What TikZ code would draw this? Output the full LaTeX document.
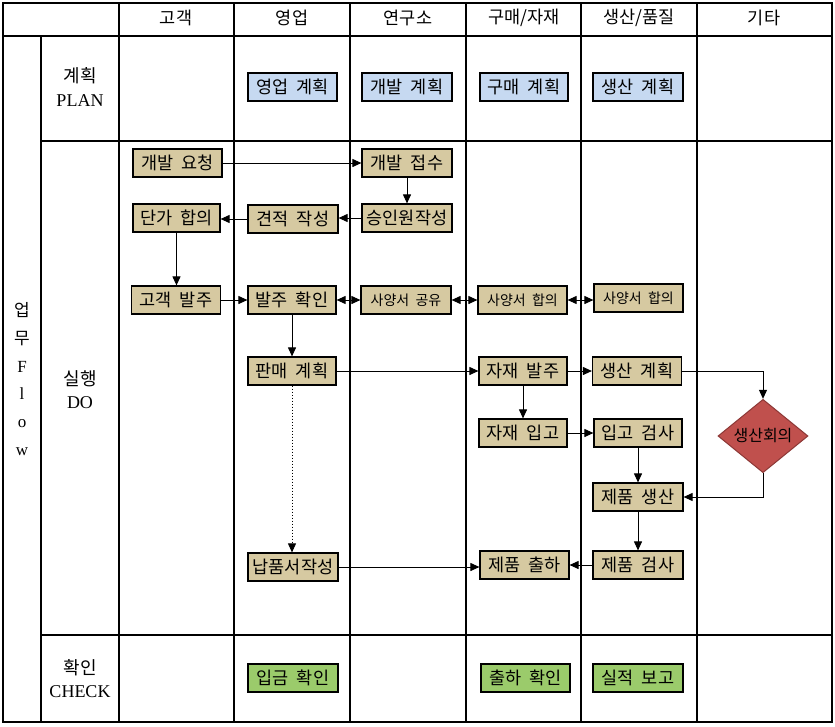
\documentclass[tikz,border=0pt]{standalone}
\usepackage{fontspec}
\setmainfont{Liberation Serif}
\newfontfamily\kr[WordSpace=2.0]{Noto Sans CJK KR}
\usetikzlibrary{shapes.geometric,arrows.meta}
\definecolor{tanbox}{RGB}{214,201,161}
\definecolor{bluebox}{RGB}{198,217,241}
\definecolor{greenbox}{RGB}{155,203,107}
\definecolor{redbox}{RGB}{192,80,77}
\definecolor{redline}{RGB}{140,56,54}
\tikzset{
  grid/.style={line width=1.1pt,black},
  base/.style={draw=black,line width=1.2pt,minimum height=28pt,inner sep=0pt,font=\kr\fontsize{17.5}{19}\selectfont},
  tanb/.style={base,fill=tanbox},
  blueb/.style={base,fill=bluebox},
  greenb/.style={base,fill=greenbox},
  smallt/.style={font=\kr\fontsize{14}{16}\selectfont},
  hdr/.style={font=\kr\fontsize{17.5}{19}\selectfont},
  lbl/.style={font=\fontsize{18}{20}\selectfont,align=center},
  conn/.style={line width=1pt,-{Triangle[length=9pt,width=8pt]}},
  dconn/.style={line width=1pt,{Triangle[length=9pt,width=8pt]}-{Triangle[length=9pt,width=8pt]}},
  dotconn/.style={line width=0.8pt,dash pattern=on 1.5pt off 1.5pt,-{Triangle[length=9pt,width=8pt]}},
  meet/.style={diamond,draw=redline,line width=1pt,fill=redbox,minimum width=90pt,minimum height=72pt,inner sep=0pt,font=\kr\fontsize{16}{18}\selectfont}
}
\begin{document}
\begin{tikzpicture}[x=1pt,y=-1pt]
\useasboundingbox (0,0) rectangle (835,726);
\fill[white] (0,0) rectangle (835,726);
% table
\draw[grid] (3,3) rectangle (832,722);
\draw[grid] (3,36) -- (832,36);
\draw[grid] (41,141) -- (832,141);
\draw[grid] (41,635) -- (832,635);
\draw[grid] (41,36) -- (41,722);
\foreach \x in {119,234,350,466,581,697} \draw[grid] (\x,3) -- (\x,722);
% headers
\node[hdr] (hA) at (176,18) {고객};
\node[hdr] (hB) at (292,18) {영업};
\node[hdr] (hC) at (408,18) {연구소};
\node[hdr] (hD) at (524,18) {구매/자재};
\node[hdr] (hE) at (639,18) {생산/품질};
\node[hdr] (hF) at (764,18) {기타};
% row labels
\node[lbl] (plan) at (80,87) {{\kr 계획}\\[4pt]PLAN};
\node[lbl] (doit) at (80,390) {{\kr 실행}\\[3pt]DO};
\node[lbl] (chk) at (80,679) {{\kr 확인}\\[3pt]CHECK};
\node[font=\fontsize{17}{27.8}\selectfont,align=center] (flow) at (22,379) {{\kr 업}\\{\kr 무}\\F\\l\\o\\w};
% plan
\node[blueb,minimum width=89pt] (p1) at (292.5,87) {영업 계획};
\node[blueb,minimum width=90pt] (p2) at (407,87) {개발 계획};
\node[blueb,minimum width=88pt] (p3) at (524,87) {구매 계획};
\node[blueb,minimum width=90pt] (p4) at (638,87) {생산 계획};
% do
\node[tanb,minimum width=89pt] (req) at (177.5,163) {개발 요청};
\node[tanb,minimum width=90pt] (rcv) at (407,163) {개발 접수};
\node[tanb,minimum width=87pt] (price) at (176.5,218) {단가 합의};
\node[tanb,minimum width=90pt] (quote) at (293,219) {견적 작성};
\node[tanb,minimum width=90pt] (appr) at (407,218) {승인원작성};
\node[tanb,minimum width=89pt] (order) at (176,300) {고객 발주};
\node[tanb,minimum width=88pt] (ordck) at (292,300) {발주 확인};
\node[tanb,smallt,minimum width=90pt] (spec1) at (406,300) {사양서 공유};
\node[tanb,smallt,minimum width=89pt] (spec2) at (522.5,300) {사양서 합의};
\node[tanb,smallt,minimum width=89pt] (spec3) at (638.5,298) {사양서 합의};
\node[tanb,minimum width=88pt] (sales) at (292,371) {판매 계획};
\node[tanb,minimum width=88pt] (mord) at (523,371) {자재 발주};
\node[tanb,minimum width=89pt] (pplan) at (637,371) {생산 계획};
\node[tanb,minimum width=88pt] (min) at (523,433) {자재 입고};
\node[tanb,minimum width=88pt] (insp) at (638,433) {입고 검사};
\node[meet] (meet) at (763,436) {생산회의};
\node[tanb,minimum width=90pt] (prod) at (638,497) {제품 생산};
\node[tanb,minimum width=90pt] (deliv) at (293,567) {납품서작성};
\node[tanb,minimum width=89pt] (ship) at (524.5,565) {제품 출하};
\node[tanb,minimum width=90pt] (pins) at (638,565) {제품 검사};
% check
\node[greenb,minimum width=90pt] (pay) at (293,678) {입금 확인};
\node[greenb,minimum width=89pt] (shck) at (525.5,678) {출하 확인};
\node[greenb,minimum width=90pt] (rep) at (638,678) {실적 보고};
% connectors
\draw[conn] (req.east) -- (req.east -| rcv.west);
\draw[conn] (rcv.south) -- (rcv.south |- appr.north);
\draw[conn] (appr.west) -- (appr.west -| quote.east);
\draw[conn] (quote.west) -- (quote.west -| price.east);
\draw[conn] (price.south) -- (price.south |- order.north);
\draw[conn] (order.east) -- (order.east -| ordck.west);
\draw[dconn] (ordck.east) -- (ordck.east -| spec1.west);
\draw[dconn] (spec1.east) -- (spec1.east -| spec2.west);
\draw[dconn] (spec2.east) -- (spec2.east -| spec3.west);
\draw[conn] (ordck.south) -- (ordck.south |- sales.north);
\draw[conn] (sales.east) -- (sales.east -| mord.west);
\draw[conn] (mord.east) -- (mord.east -| pplan.west);
\draw[conn] (mord.south) -- (mord.south |- min.north);
\draw[conn] (min.east) -- (min.east -| insp.west);
\draw[conn] (pplan.east) -| (meet.north);
\draw[conn] (meet.south) |- (prod.east);
\draw[conn] (insp.south) -- (insp.south |- prod.north);
\draw[conn] (prod.south) -- (prod.south |- pins.north);
\draw[conn] (pins.west) -- (pins.west -| ship.east);
\draw[dotconn] (sales.south) -- (sales.south |- deliv.north);
\draw[conn] (deliv.east) -- (deliv.east -| ship.west);
\end{tikzpicture}
\end{document}
